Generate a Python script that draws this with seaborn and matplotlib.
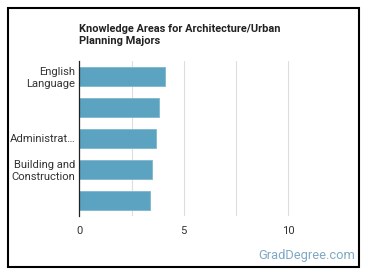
import matplotlib
matplotlib.use("Agg")
import matplotlib.pyplot as plt
import matplotlib.patches as patches
import seaborn as sns
import pandas as pd

# Knowledge area scores
areas = ["English\nLanguage", " ", "Administrat…", "Building and\nConstruction", "  "]
scores = [4.11, 3.80, 3.68, 3.49, 3.40]

sns.set_style("white")
plt.rcParams['font.family'] = ['Roboto', 'DejaVu Sans']

df = pd.DataFrame({"area": areas, "score": scores})

fig = plt.figure(figsize=(3.7, 2.78), dpi=100)
ax = fig.add_axes([0.2143, 0.223, 0.706, 0.558])

sns.barplot(data=df, x="score", y="area", color="#5ba3c1", saturation=1,
            width=0.63, ax=ax, edgecolor="#7fb6cc", linewidth=0.6)

ax.set_xlim(0, 12.5)
ax.set_ylim(4.5, -0.5)
ax.set_xticks([0, 5, 10])
ax.set_xticks([2.5, 7.5], minor=True)
ax.xaxis.grid(True, which="both", color="#dddddd", linewidth=0.8)
ax.set_axisbelow(True)
ax.tick_params(axis="both", length=0, labelsize=8.1, colors="#333333", pad=3)
ax.tick_params(axis="x", pad=7)
ax.set_xlabel("")
ax.set_ylabel("")
for s in ["top", "right", "bottom"]:
    ax.spines[s].set_visible(False)
ax.spines["left"].set_color("#222222")
ax.spines["left"].set_linewidth(0.9)
for lab in ax.get_yticklabels():
    lab.set_horizontalalignment("right")
    lab.set_multialignment("right")

fig.text(0.2143, 0.915, "Knowledge Areas for Architecture/Urban\nPlanning Majors",
         fontsize=7.9, fontweight="bold", color="#222222", va="top", ha="left",
         linespacing=1.35)
fig.text(0.96, 0.08, "GradDegree.com", fontsize=9.3, color="#7fa9c4",
         ha="right", va="center")

fig.patches.append(patches.Rectangle((8 / 370, 1 - 267 / 278), 351 / 370, 259 / 278,
                                     transform=fig.transFigure, fill=False,
                                     edgecolor="black", linewidth=1.5))

fig.savefig("out.png", dpi=100)
